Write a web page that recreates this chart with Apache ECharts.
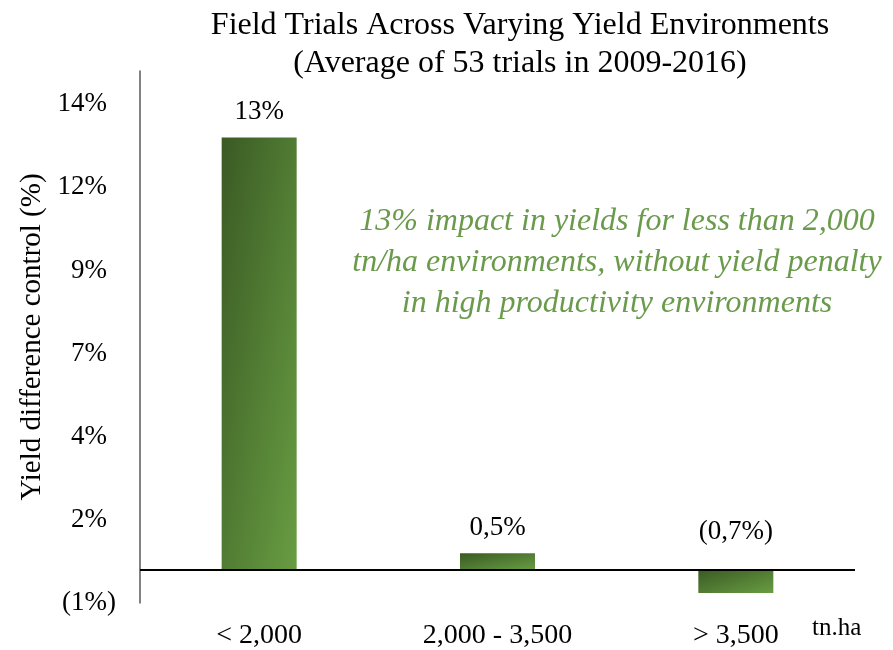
<!DOCTYPE html>
<html>
<head>
<meta charset="utf-8">
<script src="https://cdn.jsdelivr.net/npm/echarts@6/dist/echarts.min.js"></script>
<style>
  html, body { margin: 0; padding: 0; background: #fff; }
  #chart { width: 893px; height: 650px; }
</style>
</head>
<body>
<div id="chart"></div>
<script>
const categories = ['< 2,000', '2,000 - 3,500', '> 3,500']
const yieldDiff = [13, 0.5, -0.7]
const barLabels = ['13%', '0,5%', '(0,7%)']
const titleLines = ['Field Trials Across Varying Yield Environments', '(Average of 53 trials in 2009-2016)']
const noteLines = [
  '13% impact in yields for less than 2,000',
  'tn/ha environments, without yield penalty',
  'in high productivity environments'
]

const serif = '"Liberation Serif", "Times New Roman", serif'
const BAR_W = 75
const chart = echarts.init(document.getElementById('chart'))

// office style gradient: dark top-left to light bottom-right, scaled to the shape
function barFill(h) {
  const d = h * h + BAR_W * BAR_W
  return new echarts.graphic.LinearGradient(0, 0, 2 * h * h / d, 2 * BAR_W * BAR_W / d, [
    { offset: 0, color: '#3a5a24' },
    { offset: 1, color: '#689d42' }
  ])
}

const option = {
  backgroundColor: '#fff',
  animation: false,
  title: {
    text: titleLines.join('\n'),
    left: 515,
    top: 2,
    textAlign: 'center',
    textStyle: { fontFamily: serif, fontWeight: 'normal', fontSize: 32, lineHeight: 38, color: '#000' }
  },
  grid: { left: 140, right: 38, top: 71, bottom: 47, containLabel: false },
  xAxis: {
    type: 'category',
    data: categories,
    axisLine: { show: false, onZero: false },
    axisTick: { show: false },
    axisLabel: { margin: 19, fontFamily: serif, fontSize: 28, color: '#000' }
  },
  yAxis: {
    type: 'value',
    min: -1,
    max: 15,
    interval: 2.5,
    name: 'Yield difference control (%)',
    nameLocation: 'middle',
    nameGap: 80,
    nameTextStyle: { fontFamily: serif, fontSize: 29, color: '#000' },
    axisLine: { show: true, lineStyle: { color: '#595959', width: 1.5 } },
    axisTick: { show: false },
    splitLine: { show: false },
    axisLabel: {
      margin: 24,
      fontFamily: serif,
      fontSize: 27,
      color: '#000',
      formatter: (v) => {
        if (v > 14.01) return ''
        const r = Math.round(Math.abs(v))
        return v < 0 ? '(' + r + '%)' : r + '%{p|)}'
      },
      rich: { p: { fontFamily: serif, fontSize: 27, color: 'transparent' } }
    }
  },
  series: [{
    type: 'bar',
    barWidth: BAR_W,
    itemStyle: { color: '#4f7c34' },
    label: {
      show: true,
      position: 'top',
      distance: 12,
      fontFamily: serif,
      fontSize: 27,
      color: '#000',
      formatter: (p) => barLabels[p.dataIndex]
    },
    data: yieldDiff,
    markLine: {
      silent: true,
      symbol: 'none',
      label: { show: false },
      lineStyle: { color: '#000', width: 2, type: 'solid' },
      data: [{ yAxis: 0 }]
    }
  }],
  graphic: [
    {
      type: 'text',
      x: 617,
      y: 201,
      style: {
        text: noteLines.join('\n'),
        align: 'center',
        fontFamily: serif,
        fontStyle: 'italic',
        fontSize: 32,
        lineHeight: 41,
        fill: '#6a9a4b'
      }
    },
    {
      type: 'text',
      x: 812,
      y: 616,
      style: { text: 'tn.ha', fontFamily: serif, fontSize: 25, fill: '#000' }
    }
  ]
}

chart.setOption(option)

// bar heights in pixels, read back from the value axis, to shape the gradients
const pxPerUnit = chart.convertToPixel({ yAxisIndex: 0 }, 0) - chart.convertToPixel({ yAxisIndex: 0 }, 1)
chart.setOption({
  series: [{
    data: yieldDiff.map((v) => {
      const item = { value: v, itemStyle: { color: barFill(Math.abs(v) * pxPerUnit) } }
      if (v < 0) item.label = { position: 'top', offset: [0, -12] }
      return item
    })
  }]
})

window.addEventListener('resize', () => chart.resize())
</script>
</body>
</html>
